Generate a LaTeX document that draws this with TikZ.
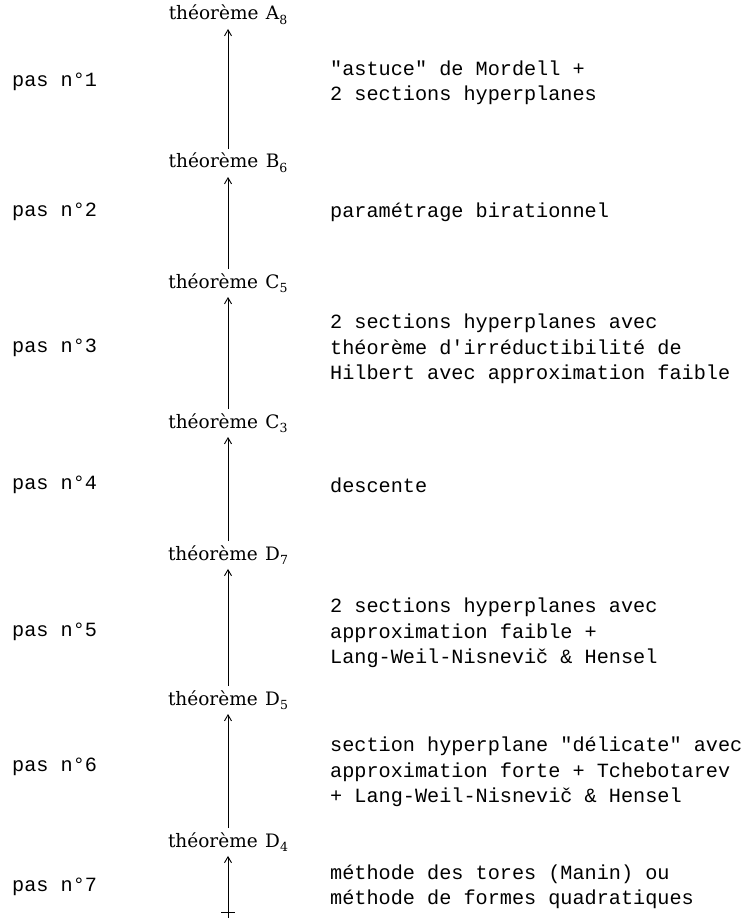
\documentclass[tikz,border=0pt]{standalone}
\usepackage{fontspec}
\newfontfamily\monofam{Liberation Mono}
\newfontfamily\seriffam{DejaVu Serif}
\usetikzlibrary{arrows.meta}
\tikzset{
  thm/.style={font=\seriffam\fontsize{18.5}{22}\selectfont, inner sep=0pt},
  paslabel/.style={font=\monofam\fontsize{20.2}{25.5}\selectfont, anchor=west, inner sep=0pt},
  desc/.style={font=\monofam\fontsize{20.2}{25.5}\selectfont, anchor=west, align=left, inner sep=0pt},
  arr/.style={-{Straight Barb[length=6pt,width=7pt]}, line width=0.9pt, shorten >=4pt, shorten <=4pt},
}
\newcommand{\thmtxt}[2]{théorème\hspace{0.4em}#1\raisebox{-0.25em}{\fontsize{12.5}{12.5}\selectfont #2}}
\begin{document}
\begin{tikzpicture}[x=1pt,y=-1pt]
\useasboundingbox (0,0) rectangle (746,918);
\node[thm] (A8) at (228,15) {\thmtxt{A}{8}};
\node[thm] (B6) at (228,163) {\thmtxt{B}{6}};
\node[thm] (C5) at (228,283) {\thmtxt{C}{5}};
\node[thm] (C3) at (228,423) {\thmtxt{C}{3}};
\node[thm] (D7) at (228,555) {\thmtxt{D}{7}};
\node[thm] (D5) at (228,700) {\thmtxt{D}{5}};
\node[thm] (D4) at (228,842) {\thmtxt{D}{4}};
\coordinate (bot) at (228,918);
\coordinate (tickL) at (221,912);
\coordinate (tickR) at (235,912);

\draw[arr] (B6.north) -- (A8.south);
\draw[arr] (C5.north) -- (B6.south);
\draw[arr] (C3.north) -- (C5.south);
\draw[arr] (D7.north) -- (C3.south);
\draw[arr] (D5.north) -- (D7.south);
\draw[arr] (D4.north) -- (D5.south);
\draw[arr, shorten <=0pt] (bot) -- (D4.south);
\draw[line width=0.9pt] (tickL) -- (tickR);

\node[paslabel] (p1) at (12,82) {pas n°1};
\node[paslabel] (p2) at (12,212) {pas n°2};
\node[paslabel] (p3) at (12,348) {pas n°3};
\node[paslabel] (p4) at (12,485) {pas n°4};
\node[paslabel] (p5) at (12,632) {pas n°5};
\node[paslabel] (p6) at (12,767) {pas n°6};
\node[paslabel] (p7) at (12,887) {pas n°7};

\node[desc] (d1) at (330,83) {"astuce" de Mordell +\\2 sections hyperplanes};
\node[desc] (d2) at (330,212) {paramétrage birationnel};
\node[desc] (d3) at (330,349) {2 sections hyperplanes avec\\théorème d'irréductibilité de\\Hilbert avec approximation faible};
\node[desc] (d4) at (330,485) {descente};
\node[desc] (d5) at (330,633) {2 sections hyperplanes avec\\approximation faible +\\Lang-Weil-Nisnevič \& Hensel};
\node[desc] (d6) at (330,772) {section hyperplane "délicate" avec\\approximation forte + Tchebotarev\\+ Lang-Weil-Nisnevič \& Hensel};
\node[desc] (d7) at (330,887) {méthode des tores (Manin) ou\\méthode de formes quadratiques};
\end{tikzpicture}
\end{document}
